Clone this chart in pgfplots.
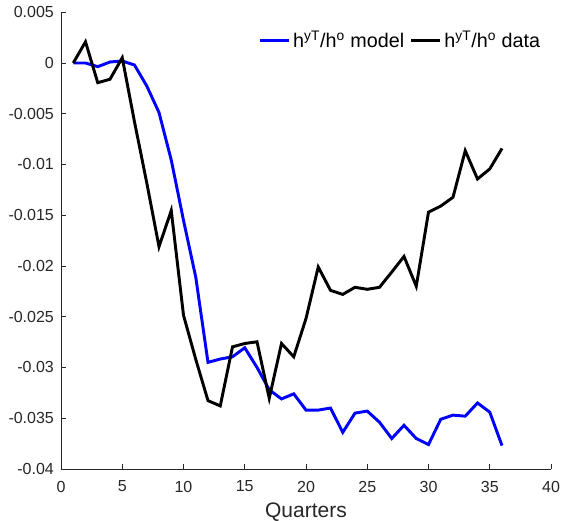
\documentclass[border=0pt]{standalone}
\usepackage{fontspec}
\setmainfont{Liberation Sans}
\usepackage{pgfplots}
\pgfplotsset{compat=1.18}
\definecolor{axgray}{RGB}{38,38,38}

\begin{document}
\begin{tikzpicture}
\begin{axis}[
  scale only axis,
  width=367.5pt, height=342.5pt,
  xmin=0, xmax=40, ymin=-0.04, ymax=0.005,
  axis x line*=bottom, axis y line*=left,
  axis line style={axgray, line width=0.5pt},
  tick style={axgray, line width=0.5pt},
  tick align=inside,
  major tick length=3.75pt,
  xtick={0,5,10,15,20,25,30,35,40},
  xticklabels={0,5,10,15,20,25,30,35,40},
  ytick={-0.04,-0.035,-0.03,-0.025,-0.02,-0.015,-0.01,-0.005,0,0.005},
  yticklabels={-0.04,-0.035,-0.03,-0.025,-0.02,-0.015,-0.01,-0.005,0,0.005},
  scaled y ticks=false,
  ticklabel style={font=\fontsize{12}{14}\selectfont, text=axgray},
  xticklabel style={yshift=-5.5pt},
  yticklabel style={xshift=-1.8pt},
  xlabel={Quarters},
  xlabel style={font=\fontsize{15.75}{18}\selectfont, text=axgray,
                at={(axis description cs:0.5,0)}, anchor=base, yshift=-36.75pt},
  legend columns=2,
  legend style={at={(0.992,0.938)}, anchor=east, draw=none, fill=none,
                font=\fontsize{14.8}{17}\selectfont,
                /tikz/every even column/.append style={column sep=2pt}},
  legend image code/.code={\draw[#1] (0pt,0pt) -- (22pt,0pt);},
]
\addplot[blue, line width=2.2pt] coordinates {
  (1,0) (2,0) (3,-0.00036) (4,0.0001) (5,0.0002) (6,-0.0002) (7,-0.00226)
  (8,-0.00488) (9,-0.00956) (10,-0.0155) (11,-0.0211) (12,-0.0295)
  (13,-0.02917) (14,-0.02895) (15,-0.02806) (16,-0.0300) (17,-0.0322)
  (18,-0.0331) (19,-0.0326) (20,-0.0342) (21,-0.0342) (22,-0.0340)
  (23,-0.0364) (24,-0.0345) (25,-0.0343) (26,-0.0354) (27,-0.0370)
  (28,-0.0357) (29,-0.0370) (30,-0.0376) (31,-0.0351) (32,-0.0347)
  (33,-0.0348) (34,-0.0335) (35,-0.0344) (36,-0.0377)
};
\addlegendentry{h\textsuperscript{yT}/h\textsuperscript{o} model}
\addplot[black, line width=2.2pt] coordinates {
  (1,0) (2,0.00209) (3,-0.00194) (4,-0.0016) (5,0.00052) (6,-0.0058)
  (7,-0.0118) (8,-0.0181) (9,-0.01454) (10,-0.02485) (11,-0.0292)
  (12,-0.03327) (13,-0.03379) (14,-0.02797) (15,-0.02764) (16,-0.02747)
  (17,-0.03304) (18,-0.02764) (19,-0.02895) (20,-0.02518) (21,-0.0201)
  (22,-0.0224) (23,-0.0228) (24,-0.0221) (25,-0.0223) (26,-0.0221)
  (27,-0.0206) (28,-0.01906) (29,-0.0220) (30,-0.0147) (31,-0.0141)
  (32,-0.01323) (33,-0.00864) (34,-0.01143) (35,-0.01044) (36,-0.00842)
};
\addlegendentry{h\textsuperscript{yT}/h\textsuperscript{o} data}
\end{axis}
\pgfresetboundingbox
\path[use as bounding box] ([shift={(-45.75pt,-39pt)}]current axis.south west)
  rectangle ([shift={(12pt,9.2pt)}]current axis.north east);
\end{tikzpicture}
\end{document}
